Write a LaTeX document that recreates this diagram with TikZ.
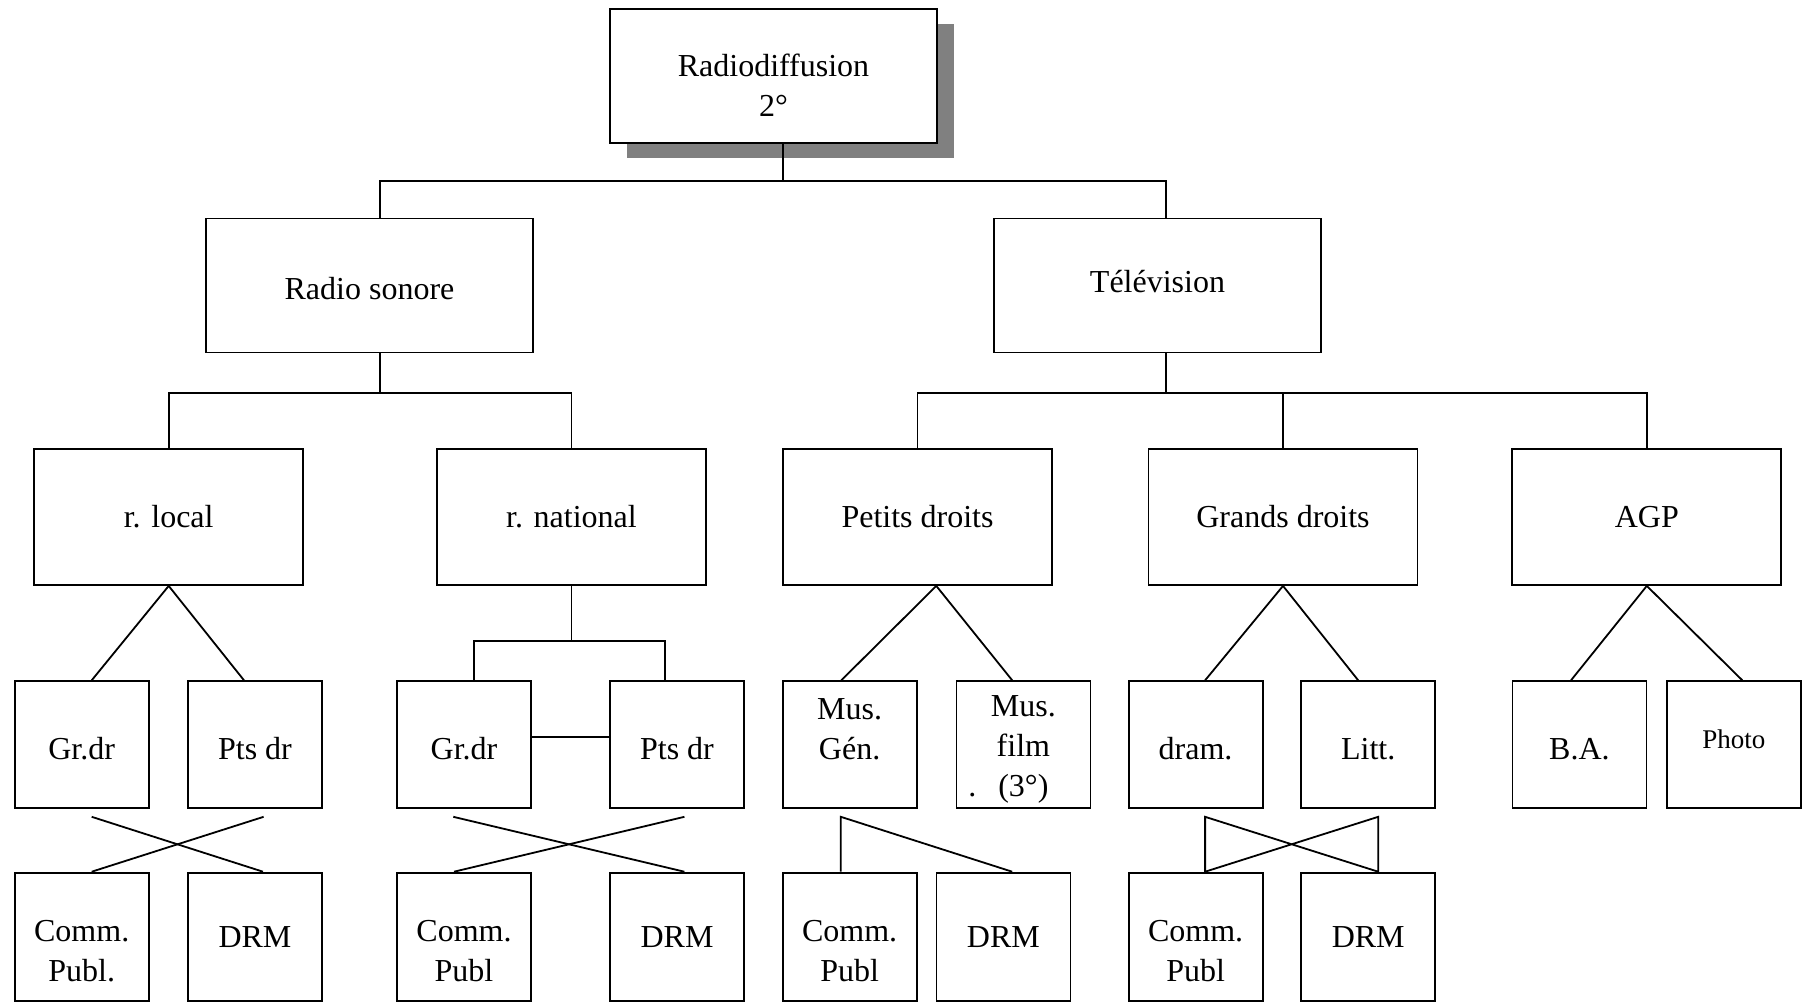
\documentclass[tikz,border=0pt]{standalone}
\usepackage{fontspec}
\setmainfont{Liberation Serif}
\usetikzlibrary{shadows}

\begin{document}
\begin{tikzpicture}[x=0.5pt,y=-0.5pt,
	line width=0.9pt,
	font=\fontsize{16}{20}\selectfont,
	box/.style={draw,fill=white,inner sep=0pt,align=center},
	topbox/.style={box,minimum width=163.5pt,minimum height=67pt},
	midbox/.style={box,minimum width=134.5pt,minimum height=68pt},
	smallbox/.style={box,minimum width=67pt,minimum height=63.5pt},
	lowbox/.style={box,minimum width=67pt,minimum height=64.2pt}]

	\useasboundingbox (0,0) rectangle (1805,1003);

	% niveau 1 et 2
	\node[topbox,drop shadow={shadow xshift=8.5pt,shadow yshift=-7.5pt,fill=black!50,opacity=1}] (radio) at (773.5,76) {\rule{0pt}{20pt}Radiodiffusion\\2°};
	\node[topbox] (sonore) at (369.5,285.5) {\rule{0pt}{14pt}Radio sonore};
	\node[topbox] (tele) at (1157.5,285.5) {Télévision\rule[-4pt]{0pt}{4pt}};

	% niveau 3
	\node[midbox] (rlocal) at (168.7,517) {r. local};
	\node[midbox] (rnat) at (571.5,517) {r. national};
	\node[midbox] (petits) at (917.5,517) {Petits droits};
	\node[midbox] (grands) at (1283,517) {Grands droits};
	\node[midbox] (agp) at (1646.8,517) {AGP};

	% niveau 4
	\node[smallbox] (grdrA) at (81.7,744.7) {\rule{0pt}{15pt}Gr.dr};
	\node[smallbox] (ptsdrA) at (255,744.7) {\rule{0pt}{15pt}Pts dr};
	\node[smallbox] (grdrB) at (464,744.7) {\rule{0pt}{15pt}Gr.dr};
	\node[smallbox] (ptsdrB) at (677,744.7) {\rule{0pt}{15pt}Pts dr};
	\node[smallbox] (musgen) at (849.6,744.7) {\rule{0pt}{15pt}Mus.\\Gén.\\~};
	\node[smallbox] (musfilm) at (1023.4,744.7) {\rule{0pt}{15pt}Mus.\\film\\\llap{.\hspace{11pt}}(3°)};
	\node[smallbox] (dram) at (1195.6,744.7) {\rule{0pt}{15pt}dram.};
	\node[smallbox] (litt) at (1368.2,744.7) {\rule{0pt}{15pt}Litt.};
	\node[smallbox] (ba) at (1579.4,744.7) {\rule{0pt}{15pt}B.A.};
	\node[smallbox,font=\fontsize{13.5}{16}\selectfont] (photo) at (1733.8,744.7) {Photo\rule[-6pt]{0pt}{6pt}};

	% niveau 5
	\node[lowbox] (commA) at (81.7,936.8) {\rule{0pt}{25pt}Comm.\\Publ.};
	\node[lowbox] (drmA) at (255,936.8) {DRM};
	\node[lowbox] (commB) at (464,936.8) {\rule{0pt}{25pt}Comm.\\Publ};
	\node[lowbox] (drmB) at (677,936.8) {DRM};
	\node[lowbox] (commC) at (849.6,936.8) {\rule{0pt}{25pt}Comm.\\Publ};
	\node[lowbox] (drmC) at (1003.4,936.8) {DRM};
	\node[lowbox] (commD) at (1195.6,936.8) {\rule{0pt}{25pt}Comm.\\Publ};
	\node[lowbox] (drmD) at (1368.2,936.8) {DRM};

	% liaisons
	\coordinate (j0) at (783,180.7);
	\draw ([xshift=4.75pt]radio.south) -- (j0);
	\draw ([xshift=5.25pt]sonore.north) |- (j0) -| ([xshift=4.25pt]tele.north);

	\coordinate (j1) at (380,392.6);
	\draw ([xshift=5.25pt]sonore.south) -- (j1);
	\draw (rlocal.north) |- (j1) -| (rnat.north);
	\coordinate (j2) at (1166,392.6);
	\draw ([xshift=4.25pt]tele.south) -- (j2);
	\draw (petits.north) |- (j2) -| (agp.north);
	\draw (grands.north) -- (grands.north |- j2);

	\draw ([xshift=5pt]grdrA.north) -- (rlocal.south) -- ([xshift=-5.5pt]ptsdrA.north);
	\coordinate (j3) at (571.5,641);
	\draw (rnat.south) -- (j3);
	\draw ([xshift=5pt]grdrB.north) |- (j3) -| ([xshift=-6pt]ptsdrB.north);
	\draw ([yshift=3.8pt]grdrB.east) -- ([yshift=3.8pt]ptsdrB.west);
	\draw ([xshift=-4.15pt]musgen.north) -- ([xshift=9.4pt]petits.south) -- ([xshift=-5.6pt]musfilm.north);
	\draw ([xshift=4.75pt]dram.north) -- (grands.south) -- ([xshift=-5pt]litt.north);
	\draw ([xshift=-4.2pt]ba.north) -- (agp.south) -- ([xshift=4.25pt]photo.north);

	% croisements vers le bas
	\draw ([xshift=5pt,yshift=-3.85pt]grdrA.south) -- ([xshift=4pt]drmA.north);
	\draw ([xshift=4.3pt,yshift=-3.85pt]ptsdrA.south) -- ([xshift=5pt]commA.north);
	\draw ([xshift=-5.35pt,yshift=-3.85pt]grdrB.south) -- ([xshift=3.7pt]drmB.north);
	\draw ([xshift=3.7pt,yshift=-3.85pt]ptsdrB.south) -- ([xshift=-5pt]commB.north);
	\draw ([xshift=-4.4pt]commC.north) -- ([xshift=-4.4pt,yshift=-3.85pt]musgen.south) -- ([xshift=4.4pt]drmC.north);
	\draw ([xshift=4.75pt,yshift=-3.85pt]dram.south) -- ([xshift=4.75pt]commD.north) -- ([xshift=5pt,yshift=-3.85pt]litt.south) -- ([xshift=5pt]drmD.north) -- cycle;
\end{tikzpicture}
\end{document}
